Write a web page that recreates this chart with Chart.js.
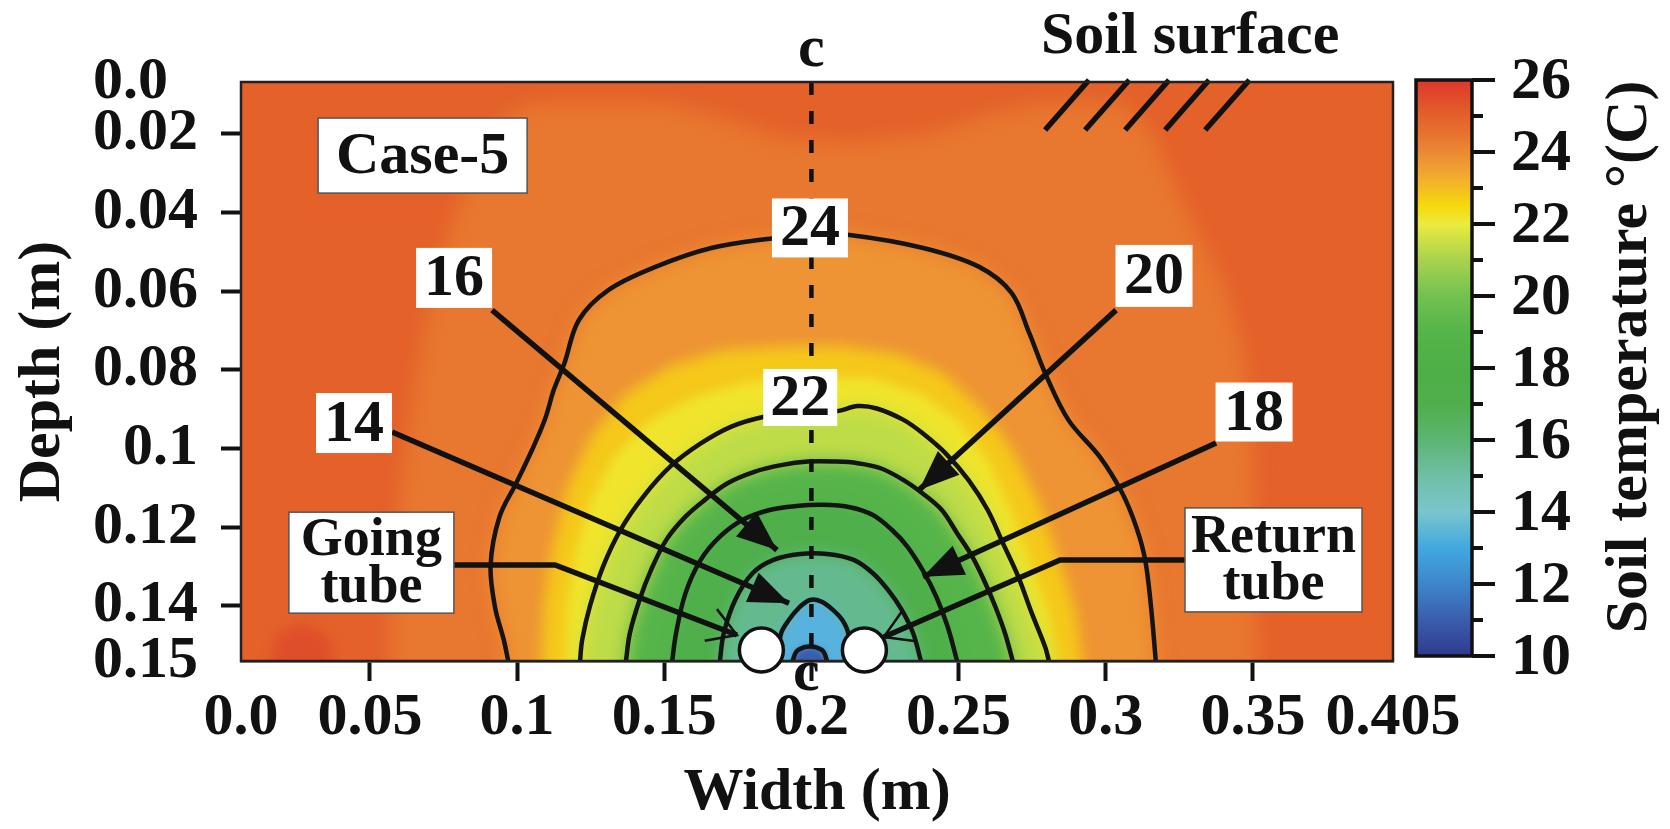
<!DOCTYPE html>
<html><head><meta charset="utf-8">
<script src="https://cdn.jsdelivr.net/npm/chart.js@4.4.1/dist/chart.umd.min.js"></script>
<style>html,body{margin:0;padding:0;background:#fff;}#wrap{width:1670px;height:829px;}</style>
</head><body><div id="wrap"><canvas id="cv" width="1670" height="829"></canvas></div>
<script>
// ---------------- DATA ----------------
const xRange = [0.0062, 0.3976];          // width (m) shown by the plot frame
const yRange = [0.0068, 0.1540];          // depth (m) shown by the plot frame
const xTickPositions = [0.0062, 0.05, 0.10, 0.15, 0.20, 0.25, 0.30, 0.35, 0.3976];
const xTickLabels = ['0.0', '0.05', '0.1', '0.15', '0.2', '0.25', '0.3', '0.35', '0.405'];
const yTickPositions = [0.0068, 0.02, 0.04, 0.06, 0.08, 0.10, 0.12, 0.14, 0.1540];
const yTickLabels = ['0.0\u00a0\u00a0', '0.02', '0.04', '0.06', '0.08', '0.1', '0.12', '0.14', '0.15'];
const colorbarTicks = [10, 12, 14, 16, 18, 20, 22, 24, 26];
const colorbarMinorTicks = [11, 13, 15, 17, 19, 21, 23, 25];
const colorbarRange = [10, 26];

// contour lines [width, depth]
const contour24 = [[0.0970,0.1540],[0.0955,0.1487],[0.0925,0.1403],[0.0910,0.1296],[0.0940,0.1174],[0.0997,0.1088],[0.1051,0.1003],[0.1095,0.0925],[0.1125,0.0850],[0.1160,0.0785],[0.1210,0.0673],[0.1310,0.0597],[0.1470,0.0538],[0.1660,0.0490],[0.1870,0.0465],[0.2000,0.0455],[0.2130,0.0457],[0.2380,0.0490],[0.2570,0.0538],[0.2680,0.0604],[0.2740,0.0706],[0.2794,0.0808],[0.2873,0.0927],[0.2980,0.1021],[0.3056,0.1113],[0.3104,0.1200],[0.3134,0.1283],[0.3154,0.1403],[0.3170,0.1540]];
const contour22 = [[0.1214,0.1540],[0.1221,0.1487],[0.1247,0.1402],[0.1292,0.1300],[0.1351,0.1207],[0.1429,0.1122],[0.1520,0.1046],[0.1624,0.0987],[0.1728,0.0944],[0.1839,0.0919],[0.1960,0.0905],[0.2086,0.0905],[0.2157,0.0892],[0.2222,0.0898],[0.2313,0.0927],[0.2378,0.0961],[0.2456,0.1012],[0.2534,0.1080],[0.2599,0.1156],[0.2651,0.1241],[0.2703,0.1326],[0.2749,0.1419],[0.2794,0.1504],[0.2807,0.1540]];
const contour20 = [[0.1370,0.1540],[0.1383,0.1470],[0.1416,0.1385],[0.1455,0.1309],[0.1507,0.1232],[0.1572,0.1173],[0.1637,0.1131],[0.1715,0.1088],[0.1806,0.1059],[0.1897,0.1042],[0.1988,0.1033],[0.2079,0.1033],[0.2157,0.1037],[0.2235,0.1050],[0.2313,0.1080],[0.2378,0.1114],[0.2443,0.1156],[0.2495,0.1215],[0.2547,0.1275],[0.2586,0.1334],[0.2625,0.1402],[0.2658,0.1470],[0.2684,0.1540]];
const contour18 = [[0.1527,0.1540],[0.1540,0.1470],[0.1572,0.1368],[0.1624,0.1283],[0.1689,0.1224],[0.1767,0.1181],[0.1858,0.1156],[0.1949,0.1146],[0.2040,0.1143],[0.2131,0.1149],[0.2209,0.1169],[0.2274,0.1207],[0.2326,0.1249],[0.2378,0.1309],[0.2424,0.1376],[0.2463,0.1453],[0.2495,0.1540]];
const contour16 = [[0.1689,0.1540],[0.1702,0.1470],[0.1741,0.1385],[0.1800,0.1317],[0.1871,0.1283],[0.1962,0.1268],[0.2053,0.1268],[0.2144,0.1283],[0.2209,0.1317],[0.2261,0.1360],[0.2307,0.1410],[0.2346,0.1470],[0.2372,0.1540]];
const contour14 = [[0.1885,0.1540],[0.1897,0.1470],[0.1923,0.1436],[0.1956,0.1406],[0.1995,0.1385],[0.2034,0.1389],[0.2073,0.1410],[0.2105,0.1436],[0.2125,0.1470],[0.2130,0.1540]];
const contour12 = [[0.1936,0.1540],[0.1950,0.1515],[0.1975,0.1505],[0.1995,0.1503],[0.2014,0.1505],[0.2040,0.1515],[0.2053,0.1540]];

// colour-shading boundaries between the drawn contours
const shade245 = [[0.057,0.160],[0.057,0.140],[0.059,0.120],[0.062,0.100],[0.066,0.080],[0.071,0.060],[0.078,0.042],[0.086,0.028],[0.095,0.016],[0.105,0.012],[0.150,0.012],[0.170,0.016],[0.190,0.021],[0.215,0.022],[0.240,0.020],[0.260,0.015],[0.280,0.012],[0.305,0.012],[0.316,0.020],[0.328,0.040],[0.340,0.058],[0.347,0.075],[0.350,0.100],[0.351,0.130],[0.352,0.160]];
const shade23 = [[0.108,0.160],[0.109,0.140],[0.112,0.125],[0.117,0.110],[0.125,0.097],[0.137,0.086],[0.152,0.079],[0.170,0.075],[0.190,0.074],[0.210,0.074],[0.230,0.076],[0.245,0.081],[0.258,0.090],[0.268,0.100],[0.277,0.113],[0.284,0.128],[0.290,0.142],[0.293,0.160]];
const shade225 = [[0.116,0.160],[0.117,0.140],[0.120,0.126],[0.125,0.113],[0.133,0.102],[0.145,0.093],[0.160,0.087],[0.178,0.083],[0.200,0.082],[0.220,0.082],[0.237,0.086],[0.250,0.093],[0.260,0.103],[0.268,0.116],[0.275,0.130],[0.281,0.143],[0.285,0.160]];
const shadeSpot = [[0.015,0.160],[0.018,0.148],[0.027,0.144],[0.036,0.148],[0.039,0.160]];

// tubes (centre width, centre depth)
const tubeCentres = [[0.183, 0.1512], [0.218, 0.1512]];
// section line c-c
const sectionX = 0.20;
// soil-surface hatch strokes [x bottom, d bottom, x top, d top]
const hatchStrokes = [[0.2794,0.019,0.2943,0.0063],[0.2930,0.019,0.3080,0.0063],[0.3066,0.019,0.3215,0.0063],[0.3202,0.019,0.3351,0.0063],[0.3338,0.019,0.3488,0.0063]];

// ---------------- STYLE / ANNOTATION LAYOUT ----------------
const FONT = '"Liberation Serif", "Times New Roman", serif';
const INK = '#111';
const labelBoxes = [
  {text:['24'], at:[0.1995,0.0439], w:76, h:59},
  {text:['22'], at:[0.1962,0.0870], w:74, h:57},
  {text:['16'], at:[0.0786,0.0566], w:76, h:60},
  {text:['14'], at:[0.0446,0.0935], w:76, h:60},
  {text:['20'], at:[0.3164,0.0561], w:77, h:62},
  {text:['18'], at:[0.3504,0.0907], w:77, h:59},
  {text:['Case-5'], at:[0.0679,0.0255], w:209, h:75, border:true},
  {text:['Going','tube'], at:[0.0505,0.1290], w:165, h:101, border:true, size:54},
  {text:['Return','tube'], at:[0.3570,0.1283], w:177, h:104, border:true, size:54}
];
const arrows = [
  {pts:[[0.0915,0.0648],[0.1883,0.1258]], head:'filled'},
  {pts:[[0.0575,0.0958],[0.1924,0.1393]], head:'filled'},
  {pts:[[0.3035,0.0648],[0.2366,0.1105]], head:'filled'},
  {pts:[[0.3375,0.0986],[0.2379,0.1326]], head:'filled'},
  {pts:[[0.0786,0.1296],[0.1129,0.1296],[0.1747,0.1474]], head:'open'},
  {pts:[[0.3270,0.1283],[0.2845,0.1283],[0.2246,0.1479]], head:'open'}
];
const fieldBackground = '#E4612A';
const fieldLayers = [
  {pts:shadeSpot, color:'#DF4E2A', blur:6},
  {pts:shade245, color:'#E8772F', blur:10},
  {pts:contour24, color:'#EE9434', blur:10},
  {pts:shade23, color:'#F5C81A', blur:7},
  {pts:shade225, color:'#F0E52C', blur:6},
  {pts:contour22, color:'#BEDC48', blur:9},
  {pts:contour20, color:'#55B44A', blur:9},
  {pts:contour18, color:'#4FAF4B', blur:7},
  {pts:contour16, color:'#64BA8E', blur:8},
  {pts:contour14, color:'#58B2DE', blur:5},
  {pts:contour12, color:'#3A5DAD', blur:3}
];
const cbStops = [[10,'#2F3A8C'],[11,'#3A5DAD'],[12,'#3D86CB'],[13,'#42A8E0'],[14,'#7AC5CB'],[15,'#70BFA6'],[16,'#5CB572'],[17,'#50AF4B'],[18,'#4DAF48'],[19,'#55B449'],[20,'#73C150'],[21,'#A9D24E'],[22,'#EBEB3E'],[22.5,'#F6DA0C'],[23,'#F5BC22'],[23.5,'#F0A133'],[24,'#EB8935'],[24.5,'#E8722F'],[25,'#E4602B'],[25.5,'#E14B2B'],[26,'#DC382C']];
const cbBox = {left:1416, right:1472, top:80, bottom:656};

const contourSets = [contour24, contour22, contour20, contour18, contour16, contour14, contour12];

function mkDataset(arr){
  return {data: arr.map(p => ({x:p[0], y:p[1]})), showLine:true, borderColor:'#141414', borderWidth:4.5,
          pointRadius:0, tension:0.35, fill:false};
}

function drawField(chart){
  const {ctx, chartArea:a, scales:{x, y}} = chart;
  ctx.save();
  ctx.beginPath(); ctx.rect(a.left, a.top, a.right - a.left, a.bottom - a.top); ctx.clip();
  ctx.fillStyle = fieldBackground;
  ctx.fillRect(a.left - 20, a.top - 20, a.right - a.left + 40, a.bottom - a.top + 40);
  fieldLayers.forEach(L => {
    ctx.filter = 'blur(' + L.blur + 'px)';
    ctx.fillStyle = L.color;
    ctx.beginPath();
    L.pts.forEach((p, i) => {
      const px = x.getPixelForValue(p[0]), py = y.getPixelForValue(p[1]);
      if (i === 0) ctx.moveTo(px, py); else ctx.lineTo(px, py);
    });
    const last = L.pts[L.pts.length - 1], first = L.pts[0];
    ctx.lineTo(x.getPixelForValue(last[0]), a.bottom + 40);
    ctx.lineTo(x.getPixelForValue(first[0]), a.bottom + 40);
    ctx.closePath();
    ctx.fill();
  });
  ctx.restore();
}

function arrowHead(ctx, fx, fy, tx, ty, kind){
  const ang = Math.atan2(ty - fy, tx - fx);
  const len = kind === 'filled' ? 40 : 28, hw = kind === 'filled' ? 16 : 17;
  const bx = tx - len * Math.cos(ang), by = ty - len * Math.sin(ang);
  const nx = -Math.sin(ang), ny = Math.cos(ang);
  ctx.beginPath();
  if (kind === 'filled') {
    ctx.moveTo(tx, ty); ctx.lineTo(bx + hw * nx, by + hw * ny); ctx.lineTo(bx - hw * nx, by - hw * ny);
    ctx.closePath(); ctx.fill();
  } else {
    ctx.lineWidth = 2.5;
    ctx.moveTo(bx + hw * nx, by + hw * ny); ctx.lineTo(tx, ty); ctx.lineTo(bx - hw * nx, by - hw * ny);
    ctx.stroke();
  }
}

function drawOverlay(chart){
  const {ctx, chartArea:a, scales:{x, y}} = chart;
  const X = v => x.getPixelForValue(v), Y = v => y.getPixelForValue(v);
  ctx.save();
  // section line c-c
  ctx.save();
  ctx.beginPath(); ctx.rect(a.left, a.top, a.right - a.left, a.bottom - a.top); ctx.clip();
  ctx.strokeStyle = INK; ctx.lineWidth = 4.5; ctx.setLineDash([13, 16]);
  ctx.beginPath(); ctx.moveTo(X(sectionX), a.top); ctx.lineTo(X(sectionX), a.bottom); ctx.stroke();
  ctx.restore();
  // arrows
  ctx.strokeStyle = INK; ctx.fillStyle = INK; ctx.lineCap = 'butt'; ctx.lineJoin = 'miter';
  arrows.forEach(ar => {
    ctx.lineWidth = 5.5;
    ctx.beginPath();
    ar.pts.forEach((p, i) => { if (i === 0) ctx.moveTo(X(p[0]), Y(p[1])); else ctx.lineTo(X(p[0]), Y(p[1])); });
    ctx.stroke();
    const n = ar.pts.length, f = ar.pts[n - 2], t = ar.pts[n - 1];
    arrowHead(ctx, X(f[0]), Y(f[1]), X(t[0]), Y(t[1]), ar.head);
  });
  // hatch strokes (soil surface)
  ctx.lineWidth = 5.5; ctx.lineCap = 'butt';
  hatchStrokes.forEach(h => {
    ctx.beginPath(); ctx.moveTo(X(h[0]), Y(h[1])); ctx.lineTo(X(h[2]), Y(h[3])); ctx.stroke();
  });
  // label boxes
  labelBoxes.forEach(b => {
    const cx = X(b.at[0]), cy = Y(b.at[1]);
    ctx.fillStyle = '#fff';
    ctx.fillRect(cx - b.w / 2, cy - b.h / 2, b.w, b.h);
    if (b.border) { ctx.strokeStyle = '#555'; ctx.lineWidth = 1.5; ctx.strokeRect(cx - b.w / 2, cy - b.h / 2, b.w, b.h); }
    ctx.fillStyle = INK;
    const size = b.size || 60;
    ctx.font = 'bold ' + size + 'px ' + FONT;
    ctx.textAlign = 'center'; ctx.textBaseline = 'middle';
    if (b.text.length === 1) ctx.fillText(b.text[0], cx, cy + 2);
    else { ctx.fillText(b.text[0], cx, cy - 22); ctx.fillText(b.text[1], cx, cy + 25); }
  });
  // plot frame
  ctx.strokeStyle = '#222'; ctx.lineWidth = 2.5; ctx.setLineDash([]);
  ctx.strokeRect(a.left, a.top, a.right - a.left, a.bottom - a.top);
  // tubes
  tubeCentres.forEach(t => {
    ctx.beginPath(); ctx.arc(X(t[0]), Y(t[1]), 22, 0, Math.PI * 2);
    ctx.fillStyle = '#fff'; ctx.fill(); ctx.strokeStyle = INK; ctx.lineWidth = 3.5; ctx.stroke();
  });
  // texts
  ctx.fillStyle = INK; ctx.font = 'bold 60px ' + FONT; ctx.textAlign = 'center'; ctx.textBaseline = 'alphabetic';
  ctx.fillText('c', X(sectionX), 66);
  ctx.fillText('c', X(sectionX) - 5, 690);
  ctx.textAlign = 'left';
  ctx.fillText('Soil surface', 1041, 53);
  // colour bar
  const cbY = v => cbBox.bottom - (v - colorbarRange[0]) / (colorbarRange[1] - colorbarRange[0]) * (cbBox.bottom - cbBox.top);
  const g = ctx.createLinearGradient(0, cbBox.bottom, 0, cbBox.top);
  cbStops.forEach(s => g.addColorStop((s[0] - colorbarRange[0]) / (colorbarRange[1] - colorbarRange[0]), s[1]));
  ctx.fillStyle = g;
  ctx.fillRect(cbBox.left, cbBox.top, cbBox.right - cbBox.left, cbBox.bottom - cbBox.top);
  ctx.strokeStyle = INK; ctx.lineWidth = 3.5;
  ctx.strokeRect(cbBox.left, cbBox.top, cbBox.right - cbBox.left, cbBox.bottom - cbBox.top);
  ctx.lineWidth = 4;
  colorbarTicks.forEach(v => { ctx.beginPath(); ctx.moveTo(cbBox.right, cbY(v)); ctx.lineTo(cbBox.right + 23, cbY(v)); ctx.stroke(); });
  colorbarMinorTicks.forEach(v => { ctx.beginPath(); ctx.moveTo(cbBox.right, cbY(v)); ctx.lineTo(cbBox.right + 11, cbY(v)); ctx.stroke(); });
  ctx.fillStyle = INK; ctx.font = 'bold 60px ' + FONT; ctx.textAlign = 'left'; ctx.textBaseline = 'middle';
  colorbarTicks.forEach(v => ctx.fillText(String(v), 1511, cbY(v) + 2));
  ctx.save();
  ctx.translate(1630, 357); ctx.rotate(-Math.PI / 2);
  ctx.textAlign = 'center'; ctx.textBaseline = 'middle';
  ctx.fillText('Soil temperature \u00b0(C)', 0, 0);
  ctx.restore();
  ctx.restore();
}

const plugin = { id:'soilField', beforeDatasetsDraw: drawField, afterDatasetsDraw: drawOverlay };

const tickFont = {family: FONT, size: 60, weight: 'bold'};
new Chart(document.getElementById('cv'), {
  type: 'scatter',
  data: { datasets: contourSets.map(mkDataset) },
  options: {
    responsive: false, animation: false, devicePixelRatio: 1,
    layout: { padding: { left: 0, top: 82, right: 277, bottom: 0 } },
    plugins: { legend: {display:false}, tooltip: {enabled:false} },
    scales: {
      x: {
        type: 'linear', min: xRange[0], max: xRange[1],
        afterBuildTicks: s => { s.ticks = xTickPositions.map(v => ({value: v})); },
        afterFit: s => { s.height = 168; },
        ticks: { autoSkip:false, maxRotation:0, minRotation:0, padding:1, color:INK, font:tickFont,
                 callback: (v, i) => xTickLabels[i] },
        grid: { drawOnChartArea:false, drawTicks:true, tickLength:20, tickWidth:4,
                tickColor: c => (c.index === 0 || c.index === xTickPositions.length - 1) ? 'rgba(0,0,0,0)' : INK },
        border: { display:true, color:'#222', width:2.5 },
        title: { display:true, text:'Width (m)', color:INK, font:tickFont, padding:{top:0, bottom:0} }
      },
      y: {
        type: 'linear', reverse: true, min: yRange[0], max: yRange[1],
        afterBuildTicks: s => { s.ticks = yTickPositions.map(v => ({value: v})); },
        afterFit: s => { s.width = 241; },
        ticks: { autoSkip:false, padding:23, color:INK, font:tickFont,
                 callback: (v, i) => yTickLabels[i] },
        grid: { drawOnChartArea:false, drawTicks:true, tickLength:20, tickWidth:4,
                tickColor: c => (c.index === 0 || c.index === yTickPositions.length - 1) ? 'rgba(0,0,0,0)' : INK },
        border: { display:true, color:'#222', width:2.5 },
        title: { display:true, text:'Depth (m)', color:INK, font:tickFont, padding:{top:7, bottom:0} }
      }
    }
  },
  plugins: [plugin]
});
</script>
</body></html>
